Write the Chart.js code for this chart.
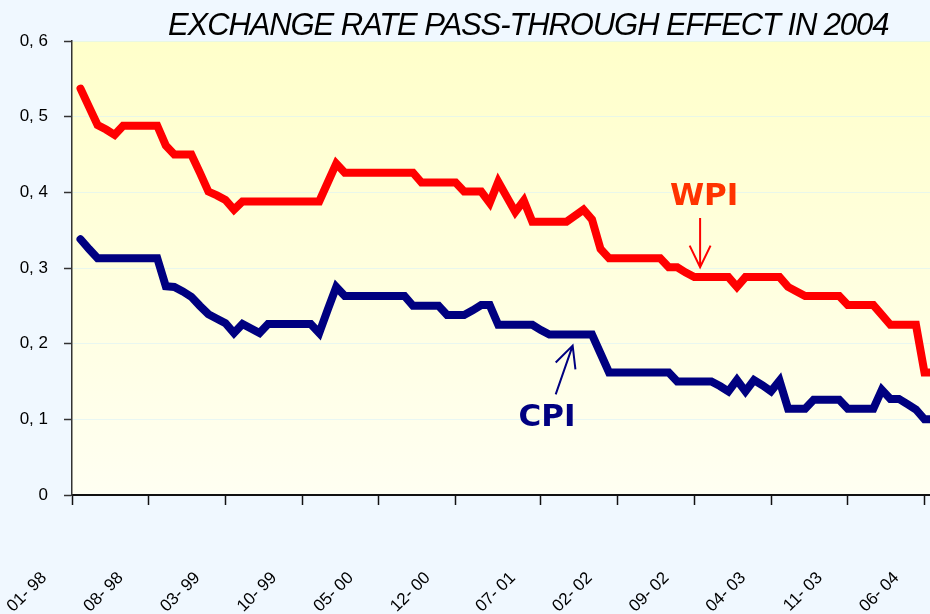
<!DOCTYPE html>
<html><head><meta charset="utf-8">
<script src="https://cdn.jsdelivr.net/npm/chart.js@4.4.0/dist/chart.umd.min.js"></script>
<style>
html,body{margin:0;padding:0;width:930px;height:614px;overflow:hidden;background:#F0F8FF;}
#wrap{position:relative;width:930px;height:614px;overflow:hidden;}
#c{position:absolute;left:0;top:0;}
#title{position:absolute;left:168px;top:9px;font-family:"Liberation Sans",Arial,sans-serif;font-style:italic;font-size:31px;line-height:31px;letter-spacing:-1.1px;color:#000;white-space:nowrap;}
</style></head>
<body><div id="wrap"><canvas id="c" width="940" height="614"></canvas><div id="title">EXCHANGE RATE PASS-THROUGH EFFECT IN 2004</div></div>
<script>
// x-axis tick labels and the category slots they sit on
const tickIndex = [0, 9, 18, 27, 36, 45, 55, 64, 73, 82, 91, 100];
const tickLabels = ['01- 98','08- 98','03- 99','10- 99','05- 00','12- 00','07- 01','02- 02','09- 02','04- 03','11- 03','06- 04'];
const yTickLabels = ['0','0, 1','0, 2','0, 3','0, 4','0, 5','0, 6'];

// WPI pass-through coefficient
const wpi = [
  0.537,0.513,0.489,0.483,0.476,0.488,0.488,0.488,0.488,0.488,
  0.462,0.450,0.450,0.450,0.426,0.401,0.396,0.390,0.377,0.388,
  0.388,0.388,0.388,0.388,0.388,0.388,0.388,0.388,0.388,0.413,
  0.438,0.426,0.426,0.426,0.426,0.426,0.426,0.426,0.426,0.426,
  0.413,0.413,0.413,0.413,0.413,0.401,0.401,0.401,0.386,0.414,
  0.394,0.374,0.389,0.361,0.361,0.361,0.361,0.361,0.369,0.377,
  0.364,0.325,0.313,0.313,0.313,0.313,0.313,0.313,0.313,0.301,
  0.301,0.294,0.288,0.288,0.288,0.288,0.288,0.275,0.288,0.288,
  0.288,0.288,0.288,0.275,0.269,0.263,0.263,0.263,0.263,0.263,
  0.251,0.251,0.251,0.251,0.238,0.225,0.225,0.225,0.225,0.162,
  0.162
];
// CPI pass-through coefficient
const cpi = [
  0.338,0.325,0.313,0.313,0.313,0.313,0.313,0.313,0.313,0.313,
  0.276,0.275,0.269,0.262,0.250,0.239,0.233,0.227,0.214,0.226,
  0.220,0.214,0.226,0.226,0.226,0.226,0.226,0.226,0.214,0.245,
  0.275,0.263,0.263,0.263,0.263,0.263,0.263,0.263,0.263,0.250,
  0.250,0.250,0.250,0.238,0.238,0.238,0.244,0.251,0.251,0.225,
  0.225,0.225,0.225,0.225,0.218,0.212,0.212,0.212,0.212,0.212,
  0.212,0.187,0.162,0.162,0.162,0.162,0.162,0.162,0.162,0.162,
  0.150,0.150,0.150,0.150,0.150,0.144,0.137,0.152,0.137,0.152,
  0.145,0.137,0.151,0.114,0.114,0.114,0.126,0.126,0.126,0.126,
  0.114,0.114,0.114,0.114,0.139,0.127,0.127,0.120,0.113,0.100,
  0.100
];

// annotation anchors in data coordinates (category slot, value)
const annotations = [
  { text: 'WPI', color: '#FF3300', arrowColor: '#FF0000', tx: 74.15, ty: 0.394, from: [73.68, 0.366], to: [73.68, 0.301] },
  { text: 'CPI', color: '#000080', arrowColor: '#000080', tx: 55.72, ty: 0.102, from: [56.74, 0.133], to: [58.73, 0.1975] }
];

const categories = [''].concat(wpi.map(() => ''));
tickIndex.forEach((idx, k) => { categories[idx] = tickLabels[k]; });

const bgPlugin = {
  id: 'plotBg',
  beforeDraw(chart) {
    const { ctx, chartArea: a } = chart;
    const g = ctx.createLinearGradient(0, a.top, 0, a.bottom);
    g.addColorStop(0, '#FFFFCA');
    g.addColorStop(1, '#FFFFF2');
    ctx.save();
    ctx.fillStyle = g;
    ctx.fillRect(a.left, a.top, a.right - a.left, a.bottom - a.top);
    ctx.restore();
  }
};

function arrow(ctx, x1, y1, x2, y2, color) {
  const ang = Math.atan2(y2 - y1, x2 - x1);
  const head = 24, spread = 0.45;
  ctx.save();
  ctx.strokeStyle = color;
  ctx.lineWidth = 2;
  ctx.beginPath();
  ctx.moveTo(x1, y1); ctx.lineTo(x2, y2);
  ctx.moveTo(x2 - head * Math.cos(ang - spread), y2 - head * Math.sin(ang - spread));
  ctx.lineTo(x2, y2);
  ctx.lineTo(x2 - head * Math.cos(ang + spread), y2 - head * Math.sin(ang + spread));
  ctx.stroke();
  ctx.restore();
}

const annPlugin = {
  id: 'annots',
  afterDatasetsDraw(chart) {
    const { ctx, scales: { x, y } } = chart;
    annotations.forEach(a => {
      ctx.save();
      ctx.font = 'bold 31px "DejaVu Sans", Verdana, sans-serif';
      ctx.fillStyle = a.color;
      ctx.textAlign = 'center';
      ctx.textBaseline = 'middle';
      ctx.fillText(a.text, x.getPixelForValue(a.tx), y.getPixelForValue(a.ty));
      ctx.restore();
      arrow(ctx, x.getPixelForValue(a.from[0]), y.getPixelForValue(a.from[1]),
                 x.getPixelForValue(a.to[0]), y.getPixelForValue(a.to[1]), a.arrowColor);
    });
  }
};

new Chart(document.getElementById('c'), {
  type: 'line',
  data: {
    labels: categories,
    datasets: [
      { label: 'WPI', data: [null].concat(wpi), borderColor: '#FF0000', borderWidth: 8,
        pointRadius: 0, tension: 0, borderJoinStyle: 'miter', borderCapStyle: 'round', fill: false },
      { label: 'CPI', data: [null].concat(cpi), borderColor: '#000080', borderWidth: 8,
        pointRadius: 0, tension: 0, borderJoinStyle: 'miter', borderCapStyle: 'round', fill: false }
    ]
  },
  options: {
    responsive: false,
    animation: false,
    devicePixelRatio: 1,
    layout: { padding: { top: 41, right: 7, left: 0, bottom: 0 } },
    plugins: { legend: { display: false }, tooltip: { enabled: false }, title: { display: false } },
    scales: {
      x: {
        offset: false,
        afterBuildTicks(scale) { scale.ticks = scale.ticks.filter(t => categories[t.value] !== ''); },
        afterFit(scale) { scale.height = 119; scale.paddingLeft = 0; scale.paddingRight = 0; },
        grid: { display: true, drawOnChartArea: false, tickLength: 10, tickColor: '#111', tickWidth: 1.5 },
        border: { color: '#111', width: 2 },
        ticks: {
          autoSkip: false, maxRotation: 45, minRotation: 45, padding: 63, labelOffset: -28,
          color: '#000', font: { family: '"Liberation Sans", Arial, sans-serif', size: 17 },
          callback(v, i) { return categories[v]; }
        }
      },
      y: {
        min: 0, max: 0.6,
        afterFit(scale) { scale.width = 72; scale.paddingTop = 0; scale.paddingBottom = 0; },
        grid: { color: 'rgba(215,240,250,0.55)', tickColor: '#333', tickLength: 8, tickWidth: 1.5 },
        border: { color: '#333', width: 1.5 },
        ticks: {
          stepSize: 0.1, padding: 16, color: '#000',
          font: { family: '"Liberation Sans", Arial, sans-serif', size: 17 },
          callback(v, i) { return yTickLabels[i]; }
        }
      }
    }
  },
  plugins: [bgPlugin, annPlugin]
});
</script>
</body></html>
